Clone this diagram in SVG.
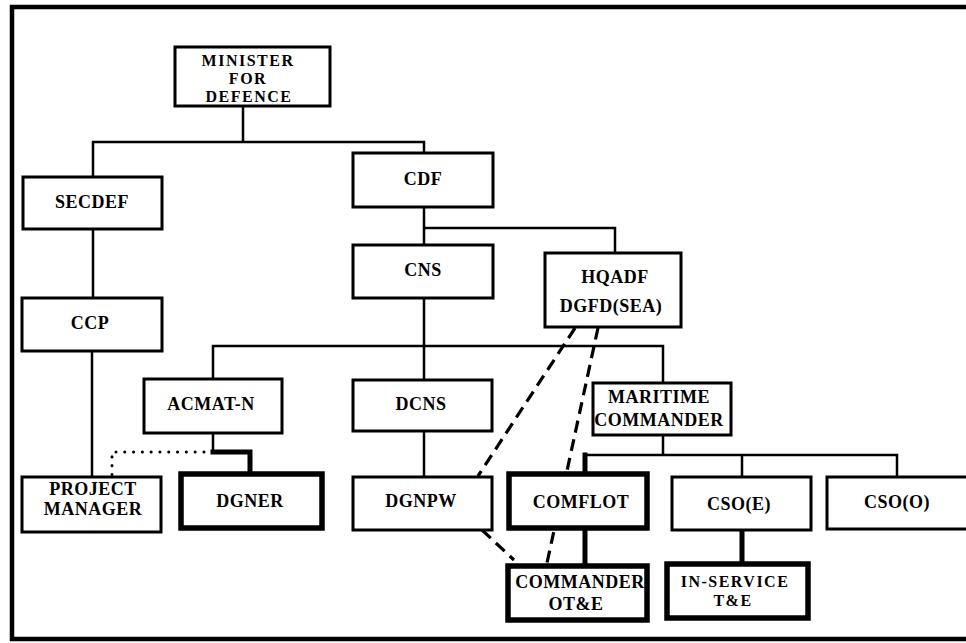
<svg xmlns="http://www.w3.org/2000/svg" width="966" height="643" viewBox="0 0 966 643">
  <style>
    .box { fill: #fff; stroke: #000; stroke-width: 3; }
    .heavy { fill: #fff; stroke: #000; stroke-width: 5.5; }
    .lbl { font-family: "Liberation Serif", "Times New Roman", serif; font-weight: bold; font-size: 18px; letter-spacing: 0.5px; fill: #000; text-anchor: middle; }
    .tight { font-size: 16px; letter-spacing: 1.5px; }
    .ln { fill: none; stroke: #000; stroke-width: 2.5; stroke-linecap: square; }
    .lnh { fill: none; stroke: #000; stroke-width: 5; stroke-linecap: square; }
    .dash { fill: none; stroke: #000; stroke-width: 3.2; stroke-dasharray: 12 7; }
    .dot { fill: none; stroke: #000; stroke-width: 3; stroke-dasharray: 0.1 8.7; stroke-linecap: round; }
  </style>
  <rect width="966" height="643" fill="#fff"/>

  <!-- outer frame (open on the right) -->
  <g id="frame">
    <path d="M968 7 L12 7 L12 639 L968 639" fill="none" stroke="#000" stroke-width="4.5"/>
  </g>

  <!-- connectors -->
  <g id="connectors">
    <!-- minister to secdef / cdf -->
    <path class="ln" d="M243 106 V142 M93 177 V142 H424 V153"/>
    <!-- secdef chain -->
    <path class="ln" d="M93 229 V298 M92 351 V477"/>
    <!-- cdf to cns / hqadf -->
    <path class="ln" d="M424 207 V245 M424 228 H615 V253"/>
    <!-- cns to its subordinates -->
    <path class="ln" d="M424 298 V380 M213 379 V346 H663 V383"/>
    <!-- dcns to dgnpw -->
    <path class="ln" d="M424 431 V477"/>
    <!-- acmat-n to dgner -->
    <path class="ln" d="M213 433 V450"/>
    <path class="lnh" d="M213 452 H250 V473"/>
    <!-- maritime commander to its subordinates -->
    <path class="ln" d="M663 435 V455 M585 455 H897 V477 M742 455 V477"/>
    <path class="lnh" d="M585 455 V473"/>
    <path class="lnh" d="M585 528 V565"/>
    <path class="lnh" d="M742 530 V563"/>
    <!-- dotted link from acmat-n to project manager -->
    <path class="dot" d="M204 452 H112 V477"/>
    <!-- dashed coordination links -->
    <path class="dash" d="M575 328 L478 476"/>
    <path class="dash" d="M598 328 Q578 420 547 563"/>
    <path class="dash" d="M482 530 L514 560"/>
  </g>

  <g id="minister">
    <rect class="box" x="175" y="47" width="155" height="59"/>
    <text class="lbl tight" x="248" y="66">MINISTER</text>
    <text class="lbl tight" x="248" y="84">FOR</text>
    <text class="lbl tight" x="249" y="102">DEFENCE</text>
  </g>
  <g id="secdef">
    <rect class="box" x="23" y="177" width="139" height="52"/>
    <text class="lbl" x="92" y="208">SECDEF</text>
  </g>
  <g id="cdf">
    <rect class="box" x="353" y="153" width="140" height="54"/>
    <text class="lbl" x="423" y="185">CDF</text>
  </g>
  <g id="cns">
    <rect class="box" x="353" y="245" width="140" height="53"/>
    <text class="lbl" x="423" y="276">CNS</text>
  </g>
  <g id="hqadf">
    <rect class="box" x="545" y="253" width="136" height="74"/>
    <text class="lbl" x="615" y="283">HQADF</text>
    <text class="lbl" x="611" y="312">DGFD(SEA)</text>
  </g>
  <g id="ccp">
    <rect class="box" x="22" y="298" width="140" height="53"/>
    <text class="lbl" x="90" y="329">CCP</text>
  </g>
  <g id="acmat-n">
    <rect class="box" x="144" y="379" width="138" height="54"/>
    <text class="lbl" x="211" y="410">ACMAT-N</text>
  </g>
  <g id="dcns">
    <rect class="box" x="353" y="380" width="139" height="51"/>
    <text class="lbl" x="421" y="410">DCNS</text>
  </g>
  <g id="maritime">
    <rect class="box" x="593" y="383" width="138" height="52"/>
    <text class="lbl" x="659" y="403">MARITIME</text>
    <text class="lbl" x="659" y="426">COMMANDER</text>
  </g>
  <g id="project-manager">
    <rect class="box" x="22" y="477" width="139" height="55"/>
    <text class="lbl" x="93" y="495">PROJECT</text>
    <text class="lbl" x="93" y="515">MANAGER</text>
  </g>
  <g id="dgner">
    <rect class="heavy" x="181" y="474" width="141" height="54"/>
    <text class="lbl" x="250" y="507">DGNER</text>
  </g>
  <g id="dgnpw">
    <rect class="box" x="353" y="477" width="139" height="53"/>
    <text class="lbl" x="421" y="507">DGNPW</text>
  </g>
  <g id="comflot">
    <rect class="heavy" x="509" y="474" width="138" height="54"/>
    <text class="lbl" x="581" y="508">COMFLOT</text>
  </g>
  <g id="cso-e">
    <rect class="box" x="672" y="477" width="139" height="53"/>
    <text class="lbl" x="739" y="510">CSO(E)</text>
  </g>
  <g id="cso-o">
    <rect class="box" x="827" y="477" width="145" height="52"/>
    <text class="lbl" x="897" y="508">CSO(O)</text>
  </g>
  <g id="commander-ote">
    <rect class="heavy" x="508" y="566" width="139" height="54"/>
    <text class="lbl" x="580" y="588">COMMANDER</text>
    <text class="lbl" x="576" y="610">OT&amp;E</text>
  </g>
  <g id="in-service">
    <rect class="heavy" x="667" y="564" width="141" height="54"/>
    <text class="lbl tight" x="735" y="587">IN-SERVICE</text>
    <text class="lbl tight" x="733" y="606">T&amp;E</text>
  </g>
</svg>
